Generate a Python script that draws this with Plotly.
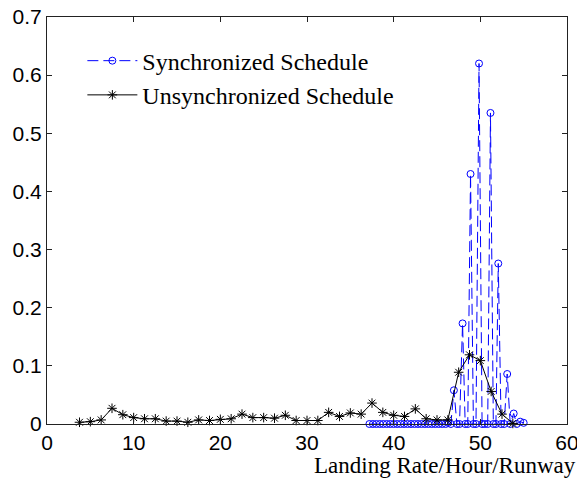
import plotly.graph_objects as go

# Unsynchronized schedule (black stars)
unsync_x = [3.75, 5.0, 6.25, 7.5, 8.75, 10.0, 11.25, 12.5, 13.75, 15.0, 16.25, 17.5,
            18.75, 20.0, 21.25, 22.5, 23.75, 25.0, 26.25, 27.5, 28.75, 30.0, 31.25,
            32.5, 33.75, 35.0, 36.25, 37.5, 38.75, 40.0, 41.25, 42.5, 43.75, 45.0,
            46.25, 47.5, 48.75, 50.0, 51.25, 52.5, 53.75]
unsync_y = [0.003, 0.004, 0.007, 0.027, 0.016, 0.011, 0.009, 0.009, 0.005, 0.005,
            0.003, 0.007, 0.006, 0.008, 0.009, 0.017, 0.011, 0.011, 0.010, 0.015,
            0.006, 0.006, 0.006, 0.020, 0.013, 0.019, 0.017, 0.036, 0.020, 0.015,
            0.013, 0.026, 0.009, 0.007, 0.007, 0.089, 0.119, 0.109, 0.056, 0.017,
            0.001]

# Synchronized schedule (blue circles, dashed)
sync_x = [37.2, 37.6, 38.0, 38.4, 38.8, 39.2, 39.6, 40.0, 40.4, 40.8, 41.2, 41.6,
          42.0, 42.4, 42.8, 43.2, 43.6, 44.0, 44.4, 44.8, 45.2, 45.6, 46.0, 46.3,
          46.6, 46.95, 47.3, 47.6, 47.95, 48.25, 48.55, 48.87, 49.2, 49.5, 49.85,
          50.2, 50.5, 50.85, 51.17, 51.5, 51.8, 52.07, 52.4, 52.75, 53.1, 53.45,
          53.85, 54.2, 54.6, 55.0]
sync_y = [0.0, 0.0, 0.0, 0.0, 0.0, 0.0, 0.0, 0.0, 0.0, 0.0, 0.0, 0.0,
          0.0, 0.0, 0.0, 0.0, 0.0, 0.0, 0.0, 0.0, 0.0, 0.0, 0.0, 0.002,
          0.0, 0.058, 0.0, 0.0, 0.173, 0.0, 0.0, 0.430, 0.0, 0.0, 0.620,
          0.0, 0.0, 0.0, 0.535, 0.0, 0.0, 0.276, 0.0, 0.0, 0.086, 0.0,
          0.018, 0.0, 0.004, 0.002]

x_ticks = [0, 10, 20, 30, 40, 50, 60]
y_ticks = [0, 0.1, 0.2, 0.3, 0.4, 0.5, 0.6, 0.7]
y_tick_labels = ["0", "0.1", "0.2", "0.3", "0.4", "0.5", "0.6", "0.7"]

fig = go.Figure()
fig.add_trace(go.Scatter(
    x=sync_x, y=sync_y, mode="lines+markers", name="Synchronized Schedule",
    legendgroup="a", cliponaxis=False,
    line=dict(color="#0000ff", width=1, dash="11px,5px"),
    marker=dict(symbol="circle-open", size=7, color="#0000ff", line=dict(width=1, color="#0000ff")),
))
fig.add_trace(go.Scatter(
    x=unsync_x, y=unsync_y, mode="lines+markers", name="Unsynchronized Schedule",
    legendgroup="b", cliponaxis=False,
    line=dict(color="#000000", width=1),
    marker=dict(symbol="asterisk-open", size=8, color="#000000", line=dict(width=1, color="#000000")),
))

axis_common = dict(
    showgrid=False, zeroline=False, showline=True, linecolor="#222222", linewidth=1,
    mirror="ticks", ticks="inside", ticklen=5, tickcolor="#222222", automargin=False,
    ticklabeloverflow="allow",
    tickfont=dict(family="Liberation Sans, Arial, sans-serif", size=21, color="#000000"),
)
fig.update_xaxes(range=[0, 60], tickvals=x_ticks, ticktext=[str(v) for v in x_ticks], **axis_common)
fig.update_yaxes(range=[0, 0.7], tickvals=y_ticks, ticktext=y_tick_labels, **axis_common)

fig.update_layout(
    width=577, height=470,
    margin=dict(l=39, r=18, t=9, b=54),
    paper_bgcolor="white", plot_bgcolor="white",
    showlegend=True,
    legend=dict(
        x=0.068, y=0.947, xanchor="left", yanchor="top",
        bgcolor="rgba(0,0,0,0)", borderwidth=0, itemwidth=50,
        font=dict(family="Liberation Serif, Times New Roman, serif", size=24, color="#000000"),
        tracegroupgap=0,
    ),
    annotations=[dict(
        text="Landing Rate/Hour/Runway", xref="paper", yref="paper",
        x=1.022, y=-0.103, xanchor="right", yanchor="middle", showarrow=False,
        font=dict(family="Liberation Serif, Times New Roman, serif", size=23, color="#000000"),
    )],
)

fig.write_html("out.html")
